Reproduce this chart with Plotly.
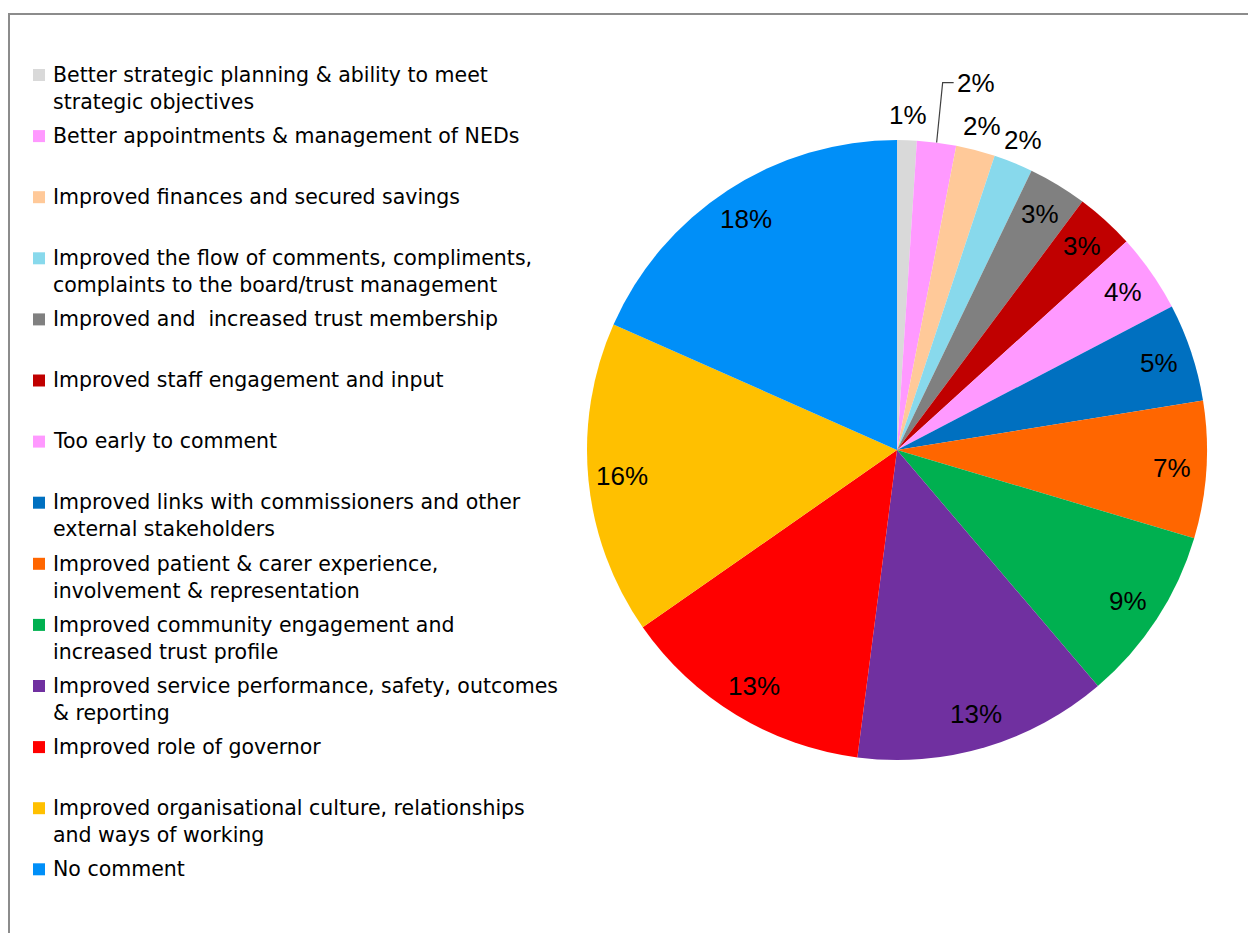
import math
import plotly.graph_objects as go

# Survey responses: reported impact, share of respondents (%)
categories = [
    "Better strategic planning & ability to meet<br>strategic objectives",
    "Better appointments & management of NEDs",
    "Improved finances and secured savings",
    "Improved the flow of comments, compliments,<br>complaints to the board/trust management",
    "Improved and  increased trust membership",
    "Improved staff engagement and input",
    "Too early to comment",
    "Improved links with commissioners and other<br>external stakeholders",
    "Improved patient & carer experience,<br>involvement & representation",
    "Improved community engagement and<br>increased trust profile",
    "Improved service performance, safety, outcomes<br>& reporting",
    "Improved role of governor",
    "Improved organisational culture, relationships<br>and ways of working",
    "No comment",
]
shares = [1, 2, 2, 2, 3, 3, 4, 5, 7, 9, 13, 13, 16, 18]
colors = [
    "#D9D9D9", "#FF99FF", "#FFC999", "#88D9EC", "#808080", "#C00000", "#FF99FF",
    "#0070C0", "#FF6600", "#00B050", "#7030A0", "#FF0000", "#FFC000", "#008FF8",
]
# where each percentage label sits: inside the slice, outside it, or lifted with a leader line
label_modes = ["outside", "leader", "outside", "outside"] + ["inside"] * 10

W, H = 1248, 933
LEGEND_FONT = "DejaVu Sans, Verdana, sans-serif"
LABEL_FONT = "Liberation Sans, Arial, sans-serif"

# pie placement (pixels)
cx, cy, r = 897, 450, 310

fig = go.Figure(
    go.Pie(
        labels=categories,
        values=shares,
        sort=False,
        direction="clockwise",
        rotation=0,
        marker=dict(colors=colors, line=dict(width=0)),
        textinfo="none",
        textposition="none",
        showlegend=False,
        hoverinfo="label+value",
        domain=dict(
            x=[(cx - r) / W, (cx + r) / W],
            y=[(H - cy - r) / H, (H - cy + r) / H],
        ),
    )
)


def to_paper(px, py):
    return px / W, 1 - py / H


shapes = []
annotations = []

# percentage labels placed at each slice's mid-angle
total = sum(shares)
cum = 0
for val, mode in zip(shares, label_modes):
    mid = (cum + val / 2) / total * 2 * math.pi
    cum += val
    s, c = math.sin(mid), math.cos(mid)
    text = f"{val}%"
    font = dict(family=LABEL_FONT, size=26, color="#000000")
    if mode == "inside":
        d = 0.89 * r
        x, y = to_paper(cx + d * s, cy - d * c)
        annotations.append(dict(xref="paper", yref="paper", x=x, y=y, text=text,
                                showarrow=False, xanchor="center", yanchor="middle", font=font))
    elif mode == "outside":
        d = 1.08 * r
        x, y = to_paper(cx + d * s, cy - d * c)
        annotations.append(dict(xref="paper", yref="paper", x=x, y=y, text=text,
                                showarrow=False, xanchor="center", yanchor="middle", font=font))
    else:
        ex, ey = cx + r * s, cy - r * c
        ly = cy - 1.185 * r
        p0 = to_paper(ex, ey)
        p1 = to_paper(ex + 6, ly)
        p2 = to_paper(ex + 17, ly)
        shapes.append(dict(type="path", xref="paper", yref="paper",
                           path=f"M {p0[0]},{p0[1]} L {p1[0]},{p1[1]} L {p2[0]},{p2[1]}",
                           line=dict(color="#404040", width=1.2)))
        x, y = to_paper(ex + 18, ly)
        annotations.append(dict(xref="paper", yref="paper", x=x, y=y, text=text,
                                showarrow=False, xanchor="left", yanchor="middle", font=font))

# legend drawn as a column of swatches and labels
legend_top = 75
legend_step = 61.1
line_h = 26.6
for i, (name, col) in enumerate(zip(categories, colors)):
    yc = legend_top + i * legend_step
    shapes.append(dict(
        type="rect", xref="paper", yref="paper",
        x0=33 / W, x1=45 / W, y0=1 - (yc + 6) / H, y1=1 - (yc - 6) / H,
        fillcolor=col, line=dict(width=0),
    ))
    annotations.append(dict(
        xref="paper", yref="paper", x=51 / W, y=1 - (yc - line_h / 2 - 1) / H,
        xanchor="left", yanchor="top", align="left", showarrow=False,
        text=name, font=dict(family=LEGEND_FONT, size=20.5, color="#000000"),
    ))

# chart frame (continues past the right and bottom edges)
shapes.append(dict(
    type="rect", xref="paper", yref="paper",
    x0=9 / W, x1=1.02, y0=-0.05, y1=1 - 14 / H,
    line=dict(color="#8C8C8C", width=2), fillcolor="rgba(0,0,0,0)",
))

fig.update_layout(
    width=W, height=H,
    margin=dict(l=0, r=0, t=0, b=0),
    paper_bgcolor="#FFFFFF",
    plot_bgcolor="#FFFFFF",
    shapes=shapes,
    annotations=annotations,
)

fig.write_html("out.html")
